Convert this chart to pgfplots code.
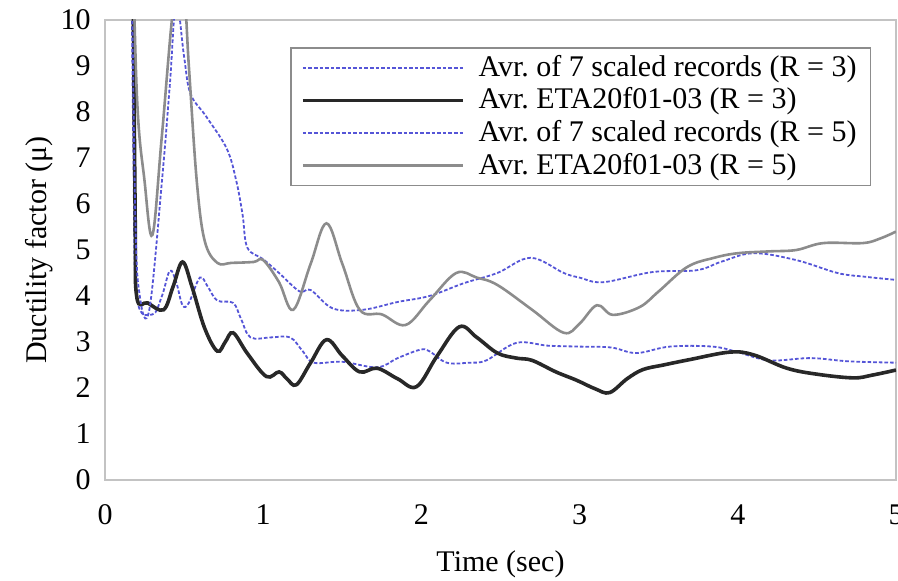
\documentclass[border=0pt]{standalone}
\usepackage{fontspec}
\setmainfont{Liberation Serif}
\usepackage{pgfplots}
\pgfplotsset{compat=1.18}

\definecolor{recblue}{RGB}{85,85,215}
\definecolor{etadark}{RGB}{40,40,40}
\definecolor{etagray}{RGB}{140,140,140}
\definecolor{framegray}{RGB}{195,195,195}

\newcommand{\chartfont}{\fontsize{15}{17}\selectfont}

\begin{document}
\chartfont
\begin{tikzpicture}
\begin{axis}[
  at={(0pt,0pt)}, anchor=south west,
  scale only axis,
  width=395.5pt, height=230pt,
  xmin=0, xmax=5, ymin=0, ymax=10,
  xtick={0,1,2,3,4,5}, ytick={0,1,...,10},
  major tick length=0pt,
  axis line style={framegray, line width=0.9pt},
  /pgf/number format/assume math mode=true,
  ticklabel style={font=\chartfont},
  yticklabel style={xshift=-2pt},
  xticklabel style={yshift=-7pt},
  xlabel={Time (sec)}, ylabel={Ductility factor (μ)},
  label style={font=\chartfont},
  xlabel style={yshift=-3pt},
  ylabel style={yshift=-6.5pt},
  clip=true,
  legend cell align=left,
  legend style={at={(0.234,0.941)}, anchor=north west,
    draw=etagray, line width=0.9pt, fill=white,
    font=\chartfont,
    inner xsep=5pt, inner ysep=1.5pt, row sep=-0.5pt,
    /tikz/every odd column/.append style={column sep=5pt}},
  legend image code/.code={\draw[#1] (0pt,0pt) -- (80pt,0pt);},
]
% average of seven scaled records, R = 3
\addplot[recblue, line width=0.9pt, dash pattern=on 1.8pt off 1pt, smooth, tension=0.6] coordinates {
 (0.16,14) (0.18,7) (0.2,4.0) (0.3,3.6) (0.36,4.0) (0.41,4.55) (0.45,4.3)
 (0.49,3.8) (0.53,3.85) (0.6,4.4) (0.65,4.2) (0.71,3.9) (0.81,3.85)
 (0.86,3.5) (0.92,3.1) (1.05,3.1) (1.17,3.1) (1.25,2.8) (1.32,2.55)
 (1.5,2.57) (1.72,2.45) (1.85,2.65) (1.99,2.83) (2.05,2.8) (2.16,2.55)
 (2.3,2.55) (2.41,2.6) (2.6,2.98) (2.8,2.92) (3.0,2.9) (3.2,2.88)
 (3.36,2.76) (3.57,2.9) (3.84,2.9) (4.0,2.78) (4.2,2.6) (4.46,2.65)
 (4.7,2.58) (5.0,2.55)};
\addlegendentry{Avr.\ of 7 scaled records (R = 3)}
% ETA20f01-03 average, R = 3
\addplot[etadark, line width=1.8pt, smooth, tension=0.6] coordinates {
 (0.17,14) (0.19,6) (0.2,4.0) (0.27,3.85) (0.37,3.7) (0.43,4.2) (0.49,4.74)
 (0.55,4.2) (0.63,3.3) (0.71,2.8) (0.76,3.0) (0.81,3.2) (0.9,2.75)
 (1.02,2.25) (1.1,2.35) (1.15,2.2) (1.21,2.07) (1.3,2.55) (1.4,3.05)
 (1.5,2.7) (1.61,2.35) (1.72,2.43) (1.85,2.2) (1.97,2.03) (2.1,2.7)
 (2.24,3.33) (2.35,3.1) (2.48,2.76) (2.6,2.65) (2.7,2.6) (2.85,2.35)
 (2.98,2.17) (3.1,1.98) (3.19,1.9) (3.3,2.2) (3.4,2.4) (3.53,2.5)
 (3.7,2.62) (3.95,2.78) (4.1,2.72) (4.31,2.43) (4.5,2.3) (4.73,2.22)
 (4.85,2.28) (5.0,2.39)};
\addlegendentry{Avr.\ ETA20f01-03 (R = 3)}
% average of seven scaled records, R = 5
\addplot[recblue, line width=0.9pt, dash pattern=on 1.8pt off 1pt, smooth, tension=0.6] coordinates {
 (0.16,14) (0.19,6) (0.22,4.0) (0.28,3.7) (0.36,6.5) (0.41,8.6) (0.45,10.4)
 (0.5,9.2) (0.54,8.4) (0.64,7.9) (0.77,7.2) (0.83,6.5) (0.87,5.76)
 (0.9,5.05) (1.0,4.8) (1.1,4.5) (1.23,4.1) (1.3,4.13) (1.44,3.73)
 (1.63,3.7) (1.85,3.87) (2.05,4.0) (2.27,4.28) (2.48,4.5) (2.69,4.83)
 (2.9,4.5) (3.0,4.4) (3.15,4.3) (3.46,4.52) (3.74,4.56) (3.9,4.75)
 (4.1,4.93) (4.37,4.78) (4.63,4.5) (4.8,4.42) (5.0,4.35)};
\addlegendentry{Avr.\ of 7 scaled records (R = 5)}
% ETA20f01-03 average, R = 5
\addplot[etagray, line width=1.3pt, smooth, tension=0.6] coordinates {
 (0.16,14) (0.2,8.5) (0.25,6.5) (0.3,5.33) (0.36,7.5) (0.44,10.5) (0.5,10.5)
 (0.53,9) (0.58,6.5) (0.63,5.2) (0.71,4.72) (0.8,4.72) (0.94,4.74)
 (1.0,4.78) (1.1,4.3) (1.19,3.7) (1.3,4.7) (1.4,5.58) (1.5,4.7)
 (1.61,3.7) (1.75,3.6) (1.9,3.37) (2.05,3.9) (2.22,4.5) (2.35,4.4)
 (2.48,4.24) (2.7,3.7) (2.9,3.2) (3.0,3.4) (3.11,3.8) (3.21,3.59)
 (3.38,3.76) (3.5,4.1) (3.68,4.63) (3.85,4.83) (4.0,4.93) (4.2,4.97)
 (4.37,5.0) (4.54,5.15) (4.79,5.15) (4.9,5.25) (5.0,5.4)};
\addlegendentry{Avr.\ ETA20f01-03 (R = 5)}
\end{axis}
\pgfresetboundingbox
\useasboundingbox (-52.5pt,-50.5pt) rectangle (396.5pt,240pt);
\end{tikzpicture}
\end{document}
